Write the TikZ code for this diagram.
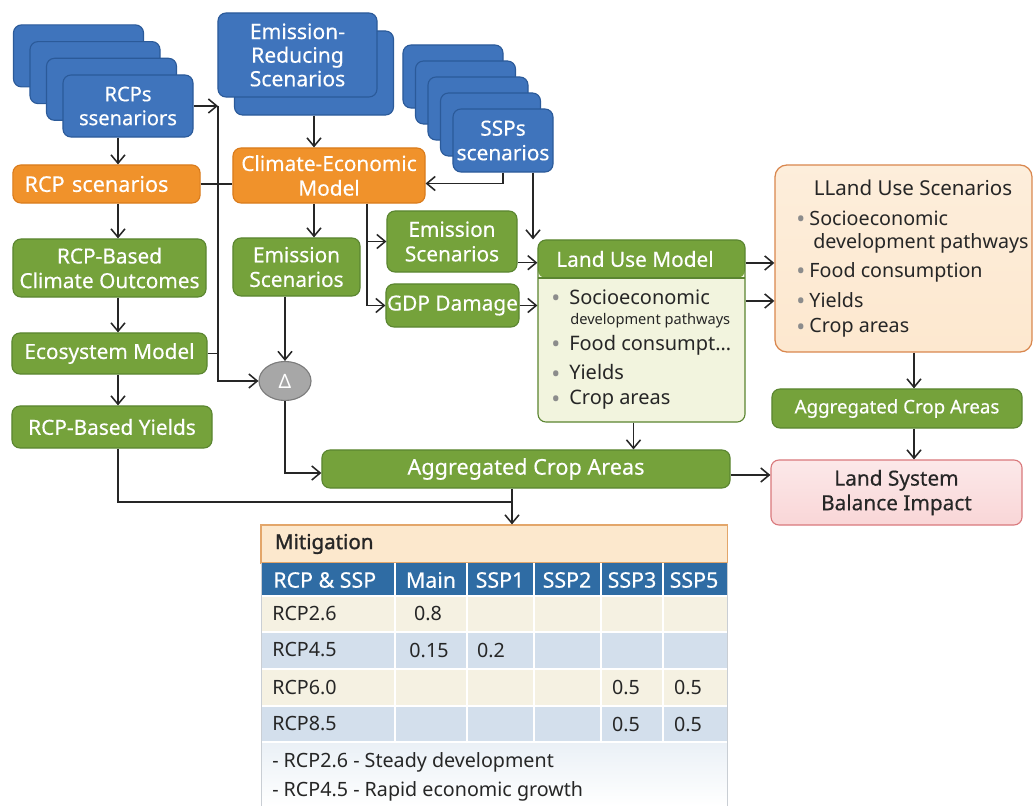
\documentclass[tikz,border=0pt]{standalone}
\usepackage{fontspec}
\setmainfont{Noto Sans}
\newfontfamily\boxfam{Noto Sans}[FakeBold=0.35]
\newfontfamily\heavyfam{Noto Sans}[FakeBold=1.4]
\usepackage{xcolor}
\usetikzlibrary{arrows.meta,shapes.geometric,calc}

\definecolor{bluefill}{HTML}{3F74BC}
\definecolor{blueline}{HTML}{2B5A99}
\definecolor{orfill}{HTML}{F0922B}
\definecolor{orline}{HTML}{D97B1C}
\definecolor{grfill}{HTML}{75A23B}
\definecolor{grline}{HTML}{5A8530}
\definecolor{lumbody}{HTML}{F2F4DE}
\definecolor{lusfill}{HTML}{FDE8CF}
\definecolor{lusline}{HTML}{D9874E}
\definecolor{lsbfill}{HTML}{F9D6D7}
\definecolor{lsbline}{HTML}{D9797C}
\definecolor{deltafill}{HTML}{A7A7A7}
\definecolor{deltaline}{HTML}{7C7C7C}
\definecolor{tabhead}{HTML}{2F6CA4}
\definecolor{tabcream}{HTML}{F5F1E2}
\definecolor{tabblue}{HTML}{D3DFEC}
\definecolor{tabtitle}{HTML}{FCE8CD}
\definecolor{tabtitleline}{HTML}{E3A66A}
\definecolor{tabnote}{HTML}{EAF0F6}
\definecolor{tabedge}{HTML}{C9CED4}
\definecolor{linec}{HTML}{262626}
\definecolor{txt}{HTML}{262626}
\definecolor{bulgrey}{HTML}{8C8C8C}

\newcommand{\lblfont}{\boxfam\fontsize{14.8}{17.5}\selectfont}
\newcommand{\itemfont}{\fontsize{14}{16}\selectfont}
\newcommand{\tabfont}{\fontsize{14}{16}\selectfont}
\newcommand{\bul}[1][0.33cm]{\makebox[#1][l]{\smash{\raisebox{-1.8pt}{\textcolor{bulgrey}{\fontsize{17}{12}\selectfont•}}}}}

\begin{document}
\begin{tikzpicture}[x=0.025cm, y=-0.025cm,
    box/.style={rounded corners=0.2cm, line width=0.8pt, text=white, align=center, inner sep=0pt, font=\lblfont},
    bluebox/.style={box, fill=bluefill, draw=blueline},
    orbox/.style={box, fill=orfill, draw=orline},
    grbox/.style={box, fill=grfill, draw=grline},
    item/.style={anchor=west, inner sep=0pt, text=txt, font=\itemfont},
    tabtxt/.style={inner sep=0pt, text=txt, font=\tabfont},
    arr/.style={draw=linec, line width=1.1pt, -{Straight Barb[length=6pt,width=10pt]}},
    link/.style={draw=linec, line width=1.1pt},
]
    \useasboundingbox (0,0) rectangle (1033,806);

    % Scenario stacks
    \foreach \i in {3,2,1}
        \node[bluebox, minimum width=3.25cm, minimum height=1.55cm] (rcps\i) at ({128-16.5*\i},{106-16.7*\i}) {};
    \node[bluebox, minimum width=3.25cm, minimum height=1.55cm, font=\boxfam\fontsize{14.3}{17}\selectfont] (rcps) at (128,106) {RCPs\\ssenariors};

    \node[bluebox, minimum width=3.975cm, minimum height=2.1cm] (ersback) at (314,73) {};
    \node[bluebox, minimum width=3.975cm, minimum height=2.1cm, font=\boxfam\fontsize{15}{16.8}\selectfont] (ers) at (297.5,55) {Emission-\\Reducing\\Scenarios};

    \foreach \i in {4,3,2,1}
        \node[bluebox, minimum width=2.5cm, minimum height=1.575cm] (ssps\i) at ({503-12.5*\i},{140.5-16*\i}) {};
    \node[bluebox, minimum width=2.5cm, minimum height=1.575cm] (ssps) at (503,140.5) {SSPs\\scenarios};

    % Orange models
    \node[orbox, minimum height=0.95cm, text width=4.1cm, inner xsep=0.29cm, align=left, font=\boxfam\fontsize{15.4}{18}\selectfont] (rcpscen) at (106.5,184) {RCP scenarios};
    \node[orbox, minimum width=4.8cm, minimum height=1.375cm] (climecon) at (329,175.5) {Climate-Economic\\Model};

    % Green boxes, left column
    \node[grbox, minimum width=4.825cm, minimum height=1.45cm] (rcpclim) at (109.5,268) {RCP-Based\\Climate Outcomes};
    \node[grbox, minimum width=4.875cm, minimum height=1.025cm] (ecomodel) at (109.5,353.5) {Ecosystem Model};
    \node[grbox, minimum width=5cm, minimum height=1.05cm] (rcpyield) at (112,427) {RCP-Based Yields};

    % Green boxes, middle
    \node[grbox, minimum width=3.175cm, minimum height=1.45cm] (emisleft) at (296.5,267) {Emission\\Scenarios};
    \node[grbox, minimum width=3.25cm, minimum height=1.525cm] (emisright) at (452,241.5) {Emission\\Scenarios};
    \node[grbox, minimum width=3.325cm, minimum height=1.075cm] (gdp) at (452.5,305.5) {GDP Damage};
    \node[grbox, minimum width=10.2cm, minimum height=0.95cm, font=\boxfam\fontsize{15.4}{18}\selectfont] (aggmid) at (526,469) {Aggregated Crop Areas};
    \node[ellipse, fill=deltafill, draw=deltaline, line width=0.8pt, minimum width=1.3cm, minimum height=0.975cm, inner sep=0pt, text=white, font=\fontsize{14}{14}\selectfont] (delta) at (285,381) {Δ};

    % Land use model
    \node[rounded corners=0.2cm, fill=lumbody, draw=grline, line width=0.8pt, minimum width=5.175cm, minimum height=4.55cm, inner sep=0pt,
        path picture={
            \fill[grfill] (path picture bounding box.north west) rectangle ([yshift=-0.95cm]path picture bounding box.north east);
            \draw[grline, line width=0.8pt] ([yshift=-0.95cm]path picture bounding box.north west) -- ([yshift=-0.95cm]path picture bounding box.north east);
        }] (lum) at (641.5,331) {};
    \node[anchor=west, inner sep=0pt, text=white, font=\lblfont] (lumtitle) at (556,259) {Land Use Model};
    \foreach \t/\y [count=\k] in {Socioeconomic/297, Food consumpt…/345, Yields/372, Crop areas/400}
        \node[item, font=\fontsize{14.2}{16}\selectfont] (lumi\k) at (551,\y) {\bul[0.45cm]\t};
    \node[item, font=\fontsize{10.4}{12}\selectfont] (lumsub) at (570,321) {development pathways};

    % Land use scenarios
    \node[rounded corners=0.3cm, top color=lusfill!75!white, bottom color=lusfill, draw=lusline, line width=0.9pt, minimum width=6.425cm, minimum height=4.675cm, inner sep=0pt] (lus) at (903.5,258.5) {};
    \node[inner sep=0pt, text=txt, font=\fontsize{14.6}{16}\selectfont] (lustitle) at (913,188) {LLand Use Scenarios};
    \foreach \t/\y [count=\k] in {Socioeconomic/218, Food consumption/272, Yields/300, Crop areas/328}
        \node[item] (lusi\k) at (796,\y) {\bul\t};
    \node[item] (lussub) at (813,243) {development pathways};

    % Right column
    \node[grbox, minimum width=6.25cm, minimum height=0.975cm, font=\boxfam\fontsize{13.3}{15}\selectfont] (aggright) at (897,408.5) {Aggregated Crop Areas};
    \node[box, top color=lsbfill!55!white, bottom color=lsbfill, draw=lsbline, text=txt, minimum width=6.275cm, minimum height=1.625cm] (lsbi) at (896.5,492.5) {Land System\\Balance Impact};

    % Mitigation table
    \node[fill=tabtitle, draw=tabtitleline, line width=0.8pt, minimum width=11.65cm, minimum height=0.95cm, text width=10.95cm, inner xsep=0.35cm, inner ysep=0pt, align=left, text=txt, font=\heavyfam\fontsize{14.6}{16}\selectfont] (mitig) at (494,544) {Mitigation};
    \fill[tabhead] (261,563) rectangle (727,596);
    \fill[tabcream] (261,596) rectangle (727,632);
    \fill[tabblue] (261,632) rectangle (727,669);
    \fill[tabcream] (261,669) rectangle (727,706);
    \fill[tabblue] (261,706) rectangle (727,742);
    \shade[top color=tabnote, bottom color=white] (261,742) rectangle (727,806);
    \foreach \x in {395,467,534,601,663}
        \draw[white, line width=1.5pt] (\x,563) -- (\x,742);
    \foreach \y in {596,632,669,706,742}
        \draw[white, line width=1.5pt] (261,\y) -- (727,\y);
    \draw[tabedge, line width=0.6pt] (261,563) -- (261,806) (727,563) -- (727,806);

    \node[tabtxt, anchor=west, text=white, font=\boxfam\fontsize{15.2}{16}\selectfont] (th0) at (273,580) {RCP \& SSP};
    \foreach \t/\x [count=\k] in {Main/431, SSP1/500, SSP2/567, SSP3/632, SSP5/694}
        \node[tabtxt, text=white, font=\boxfam\fontsize{15.2}{16}\selectfont] (th\k) at (\x,580) {\t};
    \foreach \t/\y [count=\k] in {RCP2.6/614, RCP4.5/650, RCP6.0/687, RCP8.5/724}
        \node[tabtxt, anchor=west] (tr\k) at (272,\y) {\t};
    \foreach \v/\x/\y [count=\k] in {0.8/428/614, 0.15/429/650, 0.2/491/650, 0.5/626/687, 0.5/688/687, 0.5/626/724, 0.5/688/724}
        \node[tabtxt] (tv\k) at (\x,\y) {\v};
    \node[tabtxt, anchor=west] (tn1) at (272,762) {- RCP2.6 - Steady development};
    \node[tabtxt, anchor=west] (tn2) at (272,791) {- RCP4.5 - Rapid economic growth};

    % Connectors, left side
    \coordinate (lx) at (118,0);
    \coordinate (vtop) at (218,106);
    \draw[arr] (rcps.south -| lx) -- (rcpscen.north -| lx);
    \draw[arr] (rcpscen.south -| lx) -- (rcpclim.north -| lx);
    \draw[arr] (rcpclim.south -| lx) -- (ecomodel.north -| lx);
    \draw[arr] (ecomodel.south -| lx) -- (rcpyield.north -| lx);
    \draw[arr] (rcps.east) -- (vtop);
    \draw[arr] (vtop) |- (delta.west);
    \draw[link] (ecomodel.east) -- (ecomodel.east -| vtop);
    \draw[link] (rcpscen.east) -- (rcpscen.east -| climecon.west);

    % Connectors, middle
    \coordinate (cx) at (367,0);
    \draw[arr] (ersback.south) -- (ersback.south |- climecon.north);
    \draw[arr] (ssps.south) |- ([yshift=-0.2cm]climecon.east);
    \draw[arr] ([xshift=0.75cm]ssps.south) -- ([xshift=0.75cm]ssps.south |- lum.north);
    \draw[arr] (climecon.south -| ersback.south) -- (emisleft.north -| ersback.south);
    \draw[arr] (climecon.south -| cx) |- (gdp.west);
    \draw[arr] (emisright.west -| cx) -- (emisright.west);
    \draw[arr] ([yshift=-0.53cm]emisright.east) coordinate (e1) -- (e1 -| lum.west);
    \draw[arr] (gdp.east) -- (gdp.east -| lum.west);
    \draw[arr] (emisleft.south -| delta.north) -- (delta.north);
    \draw[arr] (delta.south) |- ([yshift=-0.1cm]aggmid.west);
    \draw[arr] ([xshift=-0.2cm]lum.south) -- ([xshift=-0.2cm]lum.south |- aggmid.north);

    % Connectors, right side
    \coordinate (rx) at (914,0);
    \draw[arr] ([yshift=1.7cm]lum.east) coordinate (l1) -- (l1 -| lus.west);
    \draw[arr] ([yshift=0.75cm]lum.east) coordinate (l2) -- (l2 -| lus.west);
    \draw[arr] (lus.south -| rx) -- (aggright.north -| rx);
    \draw[arr] (aggright.south -| rx) -- (lsbi.north -| rx);
    \draw[arr] ([yshift=-0.15cm]aggmid.east) coordinate (a1) -- (a1 -| lsbi.west);

    % Into the table
    \coordinate (tx) at (512,0);
    \coordinate (tj) at (512,502);
    \draw[arr] (aggmid.south -| tx) -- (mitig.north -| tx);
    \draw[link] (rcpyield.south -| lx) |- (tj);
\end{tikzpicture}
\end{document}
